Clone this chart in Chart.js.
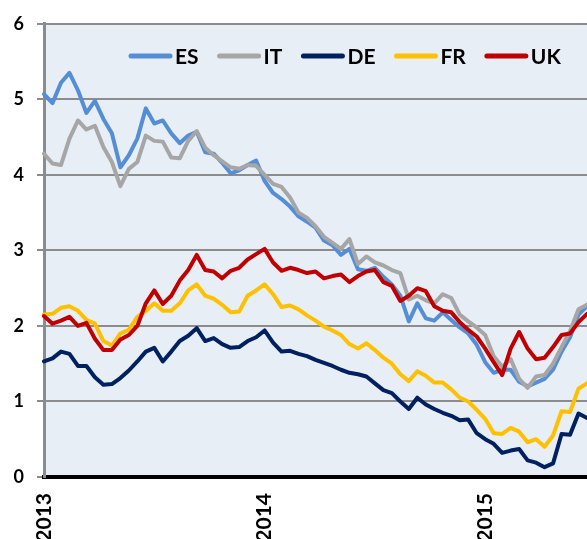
<!DOCTYPE html>
<html>
<head>
<meta charset="utf-8">
<script src="https://cdn.jsdelivr.net/npm/chart.js@4.4.0/dist/chart.umd.min.js"></script>
<style>
  html, body { margin: 0; padding: 0; background: #fff; overflow: hidden; }
</style>
</head>
<body>
<canvas id="chart" width="587" height="560"></canvas>
<script>
// bi-weekly samples, Jan 2013 - Jun 2015
const yearLabels = ['2013', '2014', '2015'];
const yearTickIndex = [0, 26, 52];

const esValues = [5.07, 4.95, 5.22, 5.35, 5.12, 4.82, 4.98, 4.74, 4.55, 4.10,
  4.26, 4.48, 4.88, 4.68, 4.72, 4.55, 4.42, 4.52, 4.57, 4.30,
  4.28, 4.16, 4.02, 4.06, 4.13, 4.19, 3.92, 3.76, 3.68, 3.58,
  3.45, 3.38, 3.30, 3.13, 3.07, 2.94, 3.02, 2.75, 2.73, 2.77,
  2.65, 2.55, 2.40, 2.06, 2.30, 2.10, 2.07, 2.18, 2.08, 1.98,
  1.90, 1.75, 1.52, 1.38, 1.42, 1.42, 1.26, 1.20, 1.25, 1.30,
  1.42, 1.66, 1.85, 2.15, 2.26];

const itValues = [4.28, 4.15, 4.13, 4.48, 4.72, 4.60, 4.65, 4.37, 4.17, 3.85,
  4.08, 4.17, 4.52, 4.45, 4.44, 4.23, 4.22, 4.45, 4.58, 4.36,
  4.26, 4.18, 4.10, 4.08, 4.13, 4.12, 4.00, 3.88, 3.84, 3.70,
  3.50, 3.43, 3.32, 3.18, 3.10, 3.02, 3.15, 2.82, 2.92, 2.84,
  2.80, 2.74, 2.70, 2.35, 2.40, 2.34, 2.30, 2.42, 2.37, 2.15,
  2.06, 1.98, 1.88, 1.60, 1.46, 1.56, 1.30, 1.18, 1.33, 1.35,
  1.50, 1.72, 1.93, 2.22, 2.28];

const deValues = [1.53, 1.57, 1.66, 1.63, 1.47, 1.47, 1.32, 1.22, 1.23, 1.31,
  1.41, 1.53, 1.66, 1.71, 1.53, 1.66, 1.80, 1.87, 1.97, 1.80,
  1.84, 1.76, 1.71, 1.72, 1.80, 1.85, 1.94, 1.78, 1.66, 1.67,
  1.63, 1.60, 1.55, 1.51, 1.47, 1.42, 1.38, 1.36, 1.33, 1.24,
  1.15, 1.11, 1.00, 0.90, 1.05, 0.96, 0.90, 0.85, 0.81, 0.75,
  0.76, 0.58, 0.50, 0.44, 0.32, 0.35, 0.37, 0.22, 0.19, 0.13,
  0.18, 0.57, 0.56, 0.84, 0.78];

const frValues = [2.15, 2.16, 2.24, 2.26, 2.20, 2.08, 2.03, 1.80, 1.74, 1.90,
  1.95, 2.12, 2.20, 2.30, 2.20, 2.20, 2.30, 2.47, 2.55, 2.40,
  2.36, 2.28, 2.18, 2.19, 2.40, 2.47, 2.55, 2.42, 2.25, 2.27,
  2.22, 2.14, 2.07, 1.99, 1.94, 1.88, 1.76, 1.70, 1.77, 1.68,
  1.58, 1.50, 1.36, 1.27, 1.40, 1.34, 1.25, 1.25, 1.16, 1.05,
  1.00, 0.89, 0.77, 0.58, 0.57, 0.65, 0.60, 0.46, 0.50, 0.40,
  0.55, 0.87, 0.86, 1.17, 1.24];

const ukValues = [2.13, 2.03, 2.07, 2.12, 2.00, 2.04, 1.83, 1.68, 1.68, 1.82,
  1.88, 2.00, 2.30, 2.47, 2.29, 2.40, 2.60, 2.74, 2.94, 2.74,
  2.72, 2.63, 2.73, 2.77, 2.88, 2.95, 3.02, 2.84, 2.73, 2.77,
  2.74, 2.70, 2.72, 2.63, 2.66, 2.68, 2.58, 2.66, 2.72, 2.74,
  2.58, 2.53, 2.33, 2.40, 2.50, 2.46, 2.26, 2.20, 2.18, 2.05,
  1.95, 1.86, 1.70, 1.52, 1.35, 1.70, 1.92, 1.70, 1.56, 1.58,
  1.72, 1.88, 1.90, 2.05, 2.16];

// category labels: one date per sample (every two weeks)
const periods = esValues.map((_, i) => {
  const d = new Date(Date.UTC(2013, 0, 1 + i * 14));
  return d.toISOString().slice(0, 10);
});

const series = [
  { label: 'ES', data: esValues, color: '#558ed5', order: 5 },
  { label: 'IT', data: itValues, color: '#a6a6a6', order: 4 },
  { label: 'DE', data: deValues, color: '#002060', order: 3 },
  { label: 'FR', data: frValues, color: '#ffc000', order: 2 },
  { label: 'UK', data: ukValues, color: '#c00000', order: 1 }
];

const plotBackground = {
  id: 'plotBackground',
  beforeDraw(chart) {
    const { ctx, chartArea: a } = chart;
    ctx.save();
    ctx.fillStyle = '#e7eef5';
    ctx.fillRect(a.left, a.top, a.right - a.left, a.bottom - a.top);
    ctx.restore();
  }
};

// legend drawn inside the plot, one row
const lineLegend = {
  id: 'lineLegend',
  afterDraw(chart) {
    const ctx = chart.ctx;
    ctx.save();
    ctx.font = 'bold 21px Lato';
    ctx.textBaseline = 'middle';
    let x = 128;
    const y = 56;
    series.forEach(s => {
      ctx.strokeStyle = s.color;
      ctx.lineWidth = 5;
      ctx.lineCap = 'round';
      ctx.beginPath();
      ctx.moveTo(x + 3, y);
      ctx.lineTo(x + 42, y);
      ctx.stroke();
      ctx.fillStyle = '#000';
      ctx.fillText(s.label, x + 47, y + 1);
      x += 47 + ctx.measureText(s.label).width + 18;
    });
    ctx.restore();
  }
};

const tickFont = { family: 'Lato', weight: 'bold', size: 18 };

new Chart(document.getElementById('chart'), {
  type: 'line',
  data: {
    labels: periods,
    datasets: series.map(s => ({
      label: s.label,
      data: s.data,
      borderColor: s.color,
      backgroundColor: s.color,
      borderWidth: 4,
      pointRadius: 0,
      tension: 0,
      borderJoinStyle: 'round',
      borderCapStyle: 'round',
      order: s.order
    }))
  },
  options: {
    responsive: false,
    animation: false,
    layout: { padding: { top: 20, left: 0, right: 0, bottom: 0 } },
    plugins: { legend: { display: false }, tooltip: { enabled: false } },
    scales: {
      x: {
        ticks: {
          autoSkip: false,
          minRotation: 90,
          maxRotation: 90,
          padding: 16,
          color: '#000',
          font: { family: 'Lato', weight: 'bold', size: 21 },
          callback(v, i) {
            const k = yearTickIndex.indexOf(i);
            return k >= 0 ? yearLabels[k] : '';
          }
        },
        grid: { display: false, drawTicks: false },
        border: { color: '#000', width: 4 },
        afterFit(scale) {
          scale.height = 83;
          scale.paddingLeft = 0;
          scale.paddingRight = 0;
        }
      },
      y: {
        min: 0,
        max: 6,
        ticks: { stepSize: 1, color: '#000', font: tickFont, padding: 13 },
        grid: {
          color: ctx => ctx.tick && ctx.tick.value === 0 ? 'rgba(0,0,0,0)' : '#8c8c8c',
          tickColor: '#8c8c8c',
          lineWidth: 2,
          tickLength: 7
        },
        border: { color: '#8c8c8c', width: 3 },
        afterFit(scale) { scale.width = 44; }
      }
    }
  },
  plugins: [plotBackground, lineLegend]
});
</script>
</body>
</html>
